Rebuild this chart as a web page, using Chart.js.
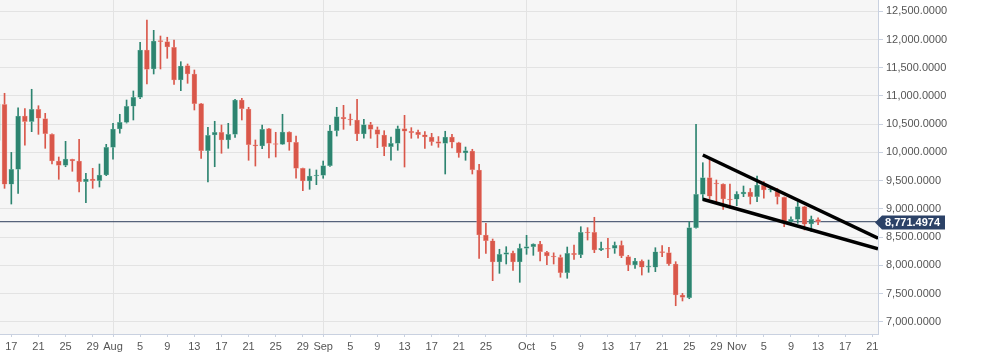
<!DOCTYPE html>
<html>
<head>
<meta charset="utf-8">
<script src="https://cdn.jsdelivr.net/npm/chart.js@4.4.0/dist/chart.umd.min.js"></script>
<style>
  html, body { margin: 0; padding: 0; background: #fff; }
  #wrap { width: 985px; height: 361px; }
</style>
</head>
<body>
<div id="wrap"><canvas id="btc-chart"></canvas></div>
<script>
// Daily candles, 15 Jul 2019 .. 13 Nov 2019 (x = days since 1 Jul)
const firstDay = 14;
const opens = [
  10210, 10850, 9435, 9700, 10645, 10545, 10763, 10597, 10320, 9847, 9771, 9878, 9847, 9480, 9528, 9498, 9599,
  10090, 10414, 10533, 10817, 10976, 11814, 11478, 11980, 11962, 11862, 11283, 11536, 11389, 10863, 10030, 10308,
  10356, 10220, 10320, 10928, 10769, 10136, 10113, 10420, 10145, 10143, 10361, 10179, 9718, 9493, 9582,
  9594, 9764, 10384, 10622, 10592, 10574, 10326, 10491, 10402, 10308, 10101, 10161, 10420, 10374, 10361,
  10313, 10273, 10190, 10161, 10273, 10172, 9989, 10025, 9688, 8536, 8435, 8058, 8194, 8217, 8058,
  8300, 8329, 8376, 8229, 8164, 8140, 7868, 8211, 8187, 8589, 8584, 8270, 8300, 8300, 8353, 8152,
  8005, 8076, 7964, 7964, 8240, 8223, 8022, 7473, 7425, 8666, 9257, 9552, 9455, 9440, 9170,
  9169, 9262, 9298, 9215, 9422, 9333, 9310, 9204, 8772, 8814, 9038, 8731, 8810
];
const highs = [
  11050, 11047, 10000, 10790, 10774, 11118, 10827, 10692, 10330, 9918, 10196, 9880, 10232, 9629, 9718, 9794, 10143,
  10515, 10675, 10928, 11088, 11951, 12346, 12163, 12062, 12040, 11991, 11607, 11566, 11460, 10870, 10444, 10551,
  10485, 10515, 10940, 10958, 10799, 10220, 10485, 10425, 10356, 10675, 10365, 10290, 9720, 9706, 9688,
  9847, 10480, 10799, 10834, 10680, 10940, 10586, 10533, 10450, 10384, 10273, 10467, 10657, 10438, 10396,
  10367, 10338, 10280, 10374, 10320, 10180, 10095, 10055, 9787, 8743, 8465, 8283, 8329, 8252, 8376,
  8530, 8380, 8423, 8245, 8220, 8182, 8323, 8358, 8683, 8666, 8850, 8412, 8477, 8412, 8430, 8175,
  8123, 8095, 8093, 8311, 8347, 8317, 8063, 7503, 8772, 10498, 9817, 9878, 9511, 9445, 9440,
  9304, 9404, 9360, 9581, 9481, 9380, 9360, 9210, 8860, 9126, 9045, 8872, 8840
];
const lows = [
  9900, 9363, 9085, 9275, 10130, 10367, 10320, 10072, 9794, 9523, 9746, 9665, 9298, 9108, 9363, 9387, 9587,
  9878, 10340, 10520, 10574, 10950, 11212, 11389, 11478, 11667, 11206, 11093, 11224, 10751, 9895, 9475, 9746,
  9984, 10072, 10267, 10574, 9860, 9758, 10065, 9900, 9918, 10140, 10037, 9541, 9321, 9346, 9428,
  9541, 9753, 10290, 10409, 10480, 10207, 10250, 10250, 10083, 9941, 9860, 10037, 9741, 10250, 10250,
  10072, 10125, 10090, 9617, 10078, 9913, 9860, 9617, 8123, 8211, 7727, 7857, 8022, 7910, 7698,
  8194, 8176, 8076, 8010, 8022, 7787, 7769, 8105, 8134, 8447, 8223, 8258, 8134, 8211, 8134, 7904,
  7946, 7827, 7875, 7886, 8152, 7999, 7283, 7367, 7407, 8655, 9156, 9174, 9126, 8991, 9010,
  9055, 9215, 9085, 9126, 9187, 9300, 9085, 8683, 8713, 8743, 8625, 8595, 8720
];
const closes = [
  10855, 9435, 9700, 10645, 10545, 10763, 10604, 10331, 9847, 9771, 9882, 9847, 9480, 9528, 9498, 9599, 10090,
  10414, 10533, 10817, 10976, 11814, 11472, 11974, 11962, 11867, 11283, 11530, 11389, 10863, 10030, 10302, 10356,
  10220, 10320, 10928, 10774, 10136, 10113, 10409, 10161, 10140, 10361, 10179, 9718, 9493, 9582, 9600,
  9764, 10384, 10633, 10592, 10574, 10326, 10491, 10409, 10320, 10101, 10161, 10420, 10374, 10349, 10313,
  10273, 10190, 10161, 10273, 10179, 9989, 10030, 9693, 8536, 8435, 8058, 8194, 8223, 8058, 8300,
  8329, 8376, 8240, 8164, 8146, 7868, 8211, 8187, 8584, 8571, 8270, 8300, 8283, 8353, 8164, 8005,
  8076, 7964, 7972, 8240, 8223, 8022, 7473, 7432, 8666, 9257, 9552, 9222, 9440, 9174, 9156,
  9262, 9298, 9215, 9422, 9333, 9346, 9215, 8743, 8814, 9038, 8726, 8814, 8771.4974
];

// hand-drawn wedge lines [day, price]
const upperTrend = [[118, 9954], [143.84, 8478]];
const lowerTrend = [[118, 9169], [143.84, 8293]];

const xTickDays = [16, 20, 24, 28, 31, 35, 39, 43, 47, 51, 55, 59, 62, 66, 70, 74, 78, 82, 86, 92, 96, 100, 104, 108, 112, 116, 120, 123, 127, 131, 135, 139, 143];
const xTickLabels = ['17', '21', '25', '29', 'Aug', '5', '9', '13', '17', '21', '25', '29', 'Sep', '5', '9', '13', '17', '21', '25', 'Oct', '5', '9', '13', '17', '21', '25', '29', 'Nov', '5', '9', '13', '17', '21'];
const yTicks = [7000, 7500, 8000, 8500, 9000, 9500, 10000, 10500, 11000, 11500, 12000, 12500];

const UP = '#2d8470';
const DOWN = '#d9574a';
const X_MIN = 14.33, X_MAX = 143.84;
const lastPrice = closes[closes.length - 1];

const wickData = lows.map((l, i) => ({ x: firstDay + i, y: [l, highs[i]] }));
const bodyData = opens.map((o, i) => ({ x: firstDay + i, y: [o, closes[i]] }));
const isUp = i => closes[i] >= opens[i];
const isMonth = i => isNaN(Number(xTickLabels[i]));

const plotBg = {
  id: 'plotBg',
  beforeDraw(chart) {
    const { ctx, chartArea: a } = chart;
    ctx.save();
    ctx.fillStyle = '#f6f6f6';
    ctx.fillRect(a.left, a.top, a.right - a.left, a.bottom - a.top);
    ctx.restore();
  }
};

// last price tag on the right axis
const priceTag = {
  id: 'priceTag',
  afterDraw(chart) {
    const { ctx } = chart;
    const y = Math.round(chart.scales.y.getPixelForValue(lastPrice)) + 0.5;
    const x0 = chart.chartArea.right - 3;
    ctx.save();
    ctx.fillStyle = '#2c4267';
    ctx.beginPath();
    ctx.moveTo(x0, y);
    ctx.lineTo(x0 + 7, y - 7);
    ctx.lineTo(x0 + 70, y - 7);
    ctx.lineTo(x0 + 70, y + 7);
    ctx.lineTo(x0 + 7, y + 7);
    ctx.closePath();
    ctx.fill();
    ctx.fillStyle = '#fff';
    ctx.font = 'bold 11px "Liberation Sans", Arial, sans-serif';
    ctx.textBaseline = 'middle';
    ctx.fillText(lastPrice.toLocaleString('en-US', { minimumFractionDigits: 4 }), x0 + 10, y + 0.5);
    ctx.restore();
  }
};

const trendDs = (pts) => ({
  type: 'line',
  data: pts.map(p => ({ x: p[0], y: p[1] })),
  borderColor: '#000',
  borderWidth: 3.5,
  pointRadius: 0,
  order: 0,
});

new Chart(document.getElementById('btc-chart'), {
  type: 'bar',
  data: {
    datasets: [
      trendDs(upperTrend),
      trendDs(lowerTrend),
      {
        type: 'line',
        data: [{ x: X_MIN, y: lastPrice }, { x: X_MAX, y: lastPrice }],
        borderColor: '#2f3f5d',
        borderWidth: 1,
        pointRadius: 0,
        order: 4,
      },
      {
        data: bodyData,
        grouped: false,
        barThickness: 5,
        minBarLength: 1,
        backgroundColor: c => isUp(c.dataIndex) ? UP : DOWN,
        borderColor: c => isUp(c.dataIndex) ? 'rgba(120,190,170,0.8)' : 'rgba(240,150,140,0.8)',
        borderWidth: 0.6,
        borderSkipped: false,
        order: 2,
      },
      {
        data: wickData,
        grouped: false,
        barThickness: 1,
        backgroundColor: c => isUp(c.dataIndex) ? UP : DOWN,
        order: 3,
      },
    ],
  },
  options: {
    responsive: true, maintainAspectRatio: false, animation: false,
    layout: { padding: 0 },
    plugins: { legend: { display: false }, tooltip: { enabled: false } },
    scales: {
      x: {
        type: 'linear', min: X_MIN, max: X_MAX, offset: false,
        afterBuildTicks: s => { s.ticks = xTickDays.map(v => ({ value: v })); },
        afterFit: s => { s.height = 27; s.paddingLeft = 0; s.paddingRight = 0; },
        border: { color: '#c9d1e0' },
        grid: {
          offset: false,
          color: c => isMonth(c.index) ? '#e3e3e3' : 'rgba(0,0,0,0)',
          tickColor: '#c9d1e0', tickLength: 3,
        },
        ticks: {
          autoSkip: false, maxRotation: 0, padding: 3, color: '#555',
          font: { family: '"Liberation Sans", Arial, sans-serif', size: 11 },
          callback: (v, i) => xTickLabels[i],
        },
      },
      y: {
        position: 'right', min: 6782, max: 12700,
        afterBuildTicks: s => { s.ticks = yTicks.map(v => ({ value: v })); },
        afterFit: s => { s.width = 107; s.paddingTop = 0; s.paddingBottom = 0; },
        border: { color: '#c9d1e0' },
        grid: { color: '#e3e3e3', tickColor: '#c9d1e0', tickLength: 5 },
        ticks: {
          padding: 3, color: '#555',
          font: { family: '"Liberation Sans", Arial, sans-serif', size: 11 },
          callback: v => v.toLocaleString('en-US', { minimumFractionDigits: 4 }),
        },
      },
    },
  },
  plugins: [plotBg, priceTag],
});
</script>
</body>
</html>
